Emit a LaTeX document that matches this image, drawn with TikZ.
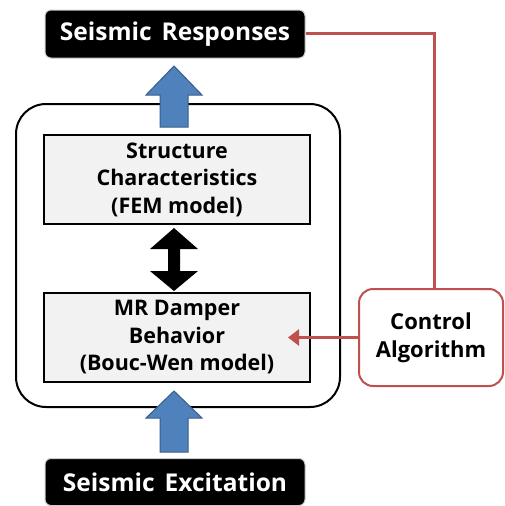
\documentclass[tikz,border=0pt]{standalone}
\usepackage{fontspec}
\setmainfont{Open Sans}
\usetikzlibrary{arrows.meta}
\definecolor{blueA}{HTML}{4F81BD}
\definecolor{blueB}{HTML}{385D8A}
\definecolor{redA}{HTML}{C0504D}
\definecolor{grayA}{HTML}{F2F2F2}
\begin{document}
\begin{tikzpicture}[x=1pt,y=-1pt,
  darkbox/.style={draw=gray!40,line width=1pt,fill=black,rounded corners=6pt,text=white,font=\fontsize{24.5}{28}\selectfont\bfseries},
  graybox/.style={draw=black,line width=2pt,fill=grayA,align=center,font=\fontsize{21.5}{27.5}\selectfont\bfseries},
  ctrlbox/.style={draw=redA,line width=2pt,fill=white,rounded corners=14pt,align=center,font=\fontsize{22}{28}\selectfont\bfseries},
  bigarrow/.style={fill=blueA,draw=blueB,line width=1pt},
  redline/.style={draw=redA,line width=3pt}]
\useasboundingbox (0,0) rectangle (504,506);
% outer box
\draw[line width=2pt,rounded corners=30pt] (16,104) rectangle (340,407);
% nodes
\node[darkbox,minimum width=260pt,minimum height=48pt] (resp) at (175,34) {Seismic\hspace{0.15em} Responses};
\node[darkbox,minimum width=260pt,minimum height=47pt] (exc) at (175,482) {Seismic\hspace{0.15em} Excitation};
\node[graybox,minimum width=266pt,minimum height=89pt] (struct) at (177,179.5) {Structure\\Characteristics\\(FEM model)};
\node[graybox,minimum width=266pt,minimum height=89pt] (mr) at (177,337.5) {MR Damper\\Behavior\\(Bouc-Wen model)};
\node[ctrlbox,minimum width=144pt,minimum height=97pt] (ctrl) at (431,337.5) {Control\\Algorithm};
% blue arrows
\draw[bigarrow] (160,127) -- (160,95) -- (146,95) -- (174,66) -- (202,95) -- (188,95) -- (188,127) -- cycle;
\draw[bigarrow] (160,452) -- (160,418) -- (146,418) -- (174,391) -- (202,418) -- (188,418) -- (188,452) -- cycle;
% double arrow
\fill (174,228) -- (198,249) -- (180,249) -- (180,271) -- (198,271) -- (174,291) -- (150,271) -- (168,271) -- (168,249) -- (150,249) -- cycle;
% red connectors
\coordinate (c1) at (434,33);
\draw[redline] (resp.east |- c1) -- (c1) -- (ctrl.north -| c1);
\draw[redline,-{Triangle[length=11pt,width=16pt]}] (ctrl.west) -- (288,337.5);
\end{tikzpicture}
\end{document}
